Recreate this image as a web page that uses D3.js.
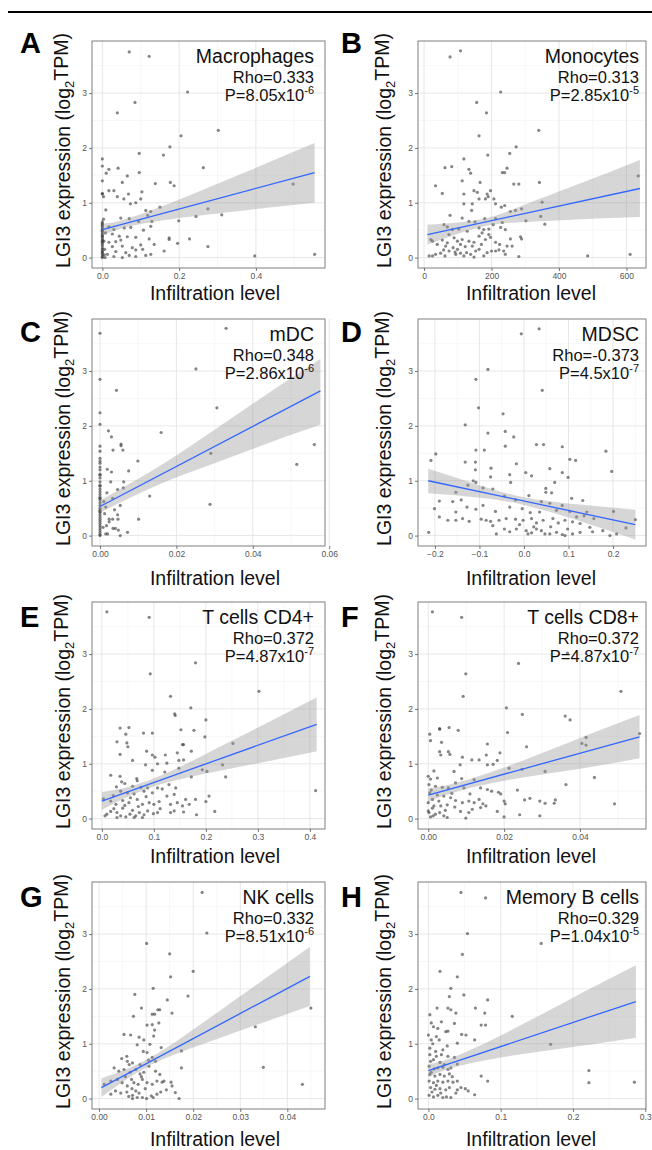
<!DOCTYPE html>
<html>
<head>
<meta charset="utf-8">
<script src="https://cdn.jsdelivr.net/npm/d3@7"></script>
<style>
  body { margin: 0; background: #fff; }
  svg { display: block; font-family: "Liberation Sans", Arial, sans-serif; }
</style>
</head>
<body>
<div id="chart"></div>
<script>
// ---- data ----
const panelLetters = ["A", "B", "C", "D", "E", "F", "G", "H"];
const cellTypes = ["Macrophages", "Monocytes", "mDC", "MDSC", "T cells CD4+", "T cells CD8+", "NK cells", "Memory B cells"];
const rhoLabels = ["0.333", "0.313", "0.348", "-0.373", "0.372", "0.372", "0.332", "0.329"];
const pMantissa = ["8.05", "2.85", "2.86", "4.5", "4.87", "4.87", "8.51", "1.04"];
const pExponent = ["-6", "-5", "-6", "-7", "-7", "-7", "-6", "-5"];

const yTicks = [0, 1, 2, 3];
const yDomain = [-0.19, 3.95];

const macroTicks = [0, 0.2, 0.4];
const monoTicks = [0, 200, 400, 600];
const mdcTicks = [0, 0.02, 0.04, 0.06];
const mdscTicks = [-0.2, -0.1, 0, 0.1, 0.2];
const cd4Ticks = [0, 0.1, 0.2, 0.3, 0.4];
const cd8Ticks = [0, 0.02, 0.04];
const nkTicks = [0, 0.01, 0.02, 0.03, 0.04];
const memBTicks = [0, 0.1, 0.2, 0.3];

const macroDomain = [-0.027, 0.58];
const monoDomain = [-18, 658];
const mdcDomain = [-0.0021, 0.0589];
const mdscDomain = [-0.238, 0.274];
const cd4Domain = [-0.019, 0.429];
const cd8Domain = [-0.0027, 0.0574];
const nkDomain = [-0.0015, 0.048];
const memBDomain = [-0.0144, 0.301];

// scatter points [infiltration, LGI3 log2TPM]
const macroPts = [[0.070,3.75],[0.122,3.67],[0.222,3.02],[0.085,2.83],[0.039,2.64],[0.302,2.32],[0.205,2.22],[0.176,2.02],[0.096,1.90],[0.159,1.87],[0,1.80],[0.263,1.64],[0,1.67],[0.041,1.63],[0.017,1.61],[0.010,1.54],[0.096,1.55],[0,1.40],[0.065,1.49],[0.052,1.37],[0.138,1.35],[0.177,1.37],[0.187,1.31],[0.497,1.34],[0,1.17],[0.017,1.22],[0.030,1.22],[0.068,1.16],[0.103,1.20],[0.003,1.11],[0.039,1.11],[0.056,1.07],[0.100,1.07],[0.073,0.98],[0.087,1.00],[0.009,0.87],[0.113,0.86],[0.126,0.84],[0.150,0.92],[0.275,0.89],[0.311,0.78],[0.244,0.75],[0.199,0.67],[0.048,0.72],[0.070,0.71],[0.094,0.66],[0.129,0.66],[0.118,0.77],[0.017,0.56],[0.030,0.51],[0.057,0.54],[0.074,0.55],[0.107,0.50],[0.126,0.57],[0.026,0.43],[0.044,0.39],[0.065,0.38],[0.087,0.37],[0.122,0.34],[0.135,0.24],[0.174,0.36],[0.174,0.33],[0.227,0.34],[0.196,0.26],[0.275,0.20],[0.017,0.28],[0.035,0.29],[0.048,0.32],[0.026,0.20],[0.052,0.21],[0.078,0.18],[0.100,0.23],[0.105,0.15],[0.035,0.11],[0.061,0.09],[0.087,0.14],[0.161,0.12],[0.126,0.06],[0.013,0.06],[0.030,0.02],[0.052,0.00],[0.087,0.02],[0.397,0.03],[0.553,0.06],[0.007,0.00],[0.113,0.04],[0.070,0.04],[0,1.16],[0,0.65],[0,0.62],[0,0.60],[0,0.58],[0,0.55],[0,0.52],[0,0.50],[0,0.48],[0,0.45],[0,0.42],[0,0.40],[0,0.38],[0,0.35],[0,0.32],[0,0.30],[0,0.28],[0,0.25],[0,0.22],[0,0.18],[0,0.15],[0,0.12],[0,0.10],[0,0.08],[0,0.05],[0,0.02],[0,0.00],[0.004,0.30],[0.006,0.15],[0.008,0.45],[0.003,0.70],[0.005,0.05]];

const monoPts = [[77,3.66],[108,3.77],[227,3.02],[156,2.83],[185,2.64],[340,2.32],[163,2.22],[273,2.02],[254,1.90],[189,1.87],[118,1.80],[62,1.64],[82,1.66],[133,1.61],[138,1.54],[232,1.55],[239,1.55],[246,1.63],[113,1.40],[166,1.37],[266,1.34],[281,1.34],[342,1.37],[635,1.49],[34,1.31],[54,1.17],[118,1.16],[148,1.22],[158,1.19],[187,1.16],[190,1.11],[197,1.22],[182,1.07],[207,1.07],[163,1.07],[143,0.98],[118,0.98],[212,0.98],[350,1.01],[229,0.92],[239,0.95],[256,0.84],[271,0.86],[289,0.89],[346,0.75],[358,0.61],[302,0.67],[77,0.77],[141,0.86],[113,0.72],[133,0.66],[151,0.65],[180,0.71],[212,0.71],[232,0.64],[59,0.60],[69,0.56],[103,0.52],[84,0.51],[163,0.54],[177,0.51],[192,0.52],[227,0.55],[241,0.51],[20,0.33],[39,0.24],[54,0.32],[64,0.21],[74,0.42],[89,0.36],[99,0.30],[113,0.33],[133,0.30],[148,0.28],[163,0.39],[170,0.24],[182,0.33],[192,0.42],[197,0.37],[212,0.28],[224,0.24],[236,0.12],[246,0.21],[256,0.34],[261,0.21],[286,0.38],[289,0.34],[15,0.03],[25,0.03],[34,0.06],[49,0.08],[62,0.03],[74,0.12],[86,0.18],[94,0.06],[99,0.15],[108,0.08],[118,0.03],[126,0.09],[138,0.06],[148,0.01],[153,0.12],[163,0.15],[177,0.03],[187,0.09],[200,0.12],[212,0.12],[222,0.14],[241,0.06],[281,0.02],[485,0.03],[611,0.06],[25,0.30],[69,0.27],[108,0.24],[143,0.21],[92,0.10],[122,0.20],[172,0.45],[58,0.14],[205,0.60],[128,0.48]];

const mdcPts = [[0,3.69],[0.033,3.78],[0.0251,3.04],[0,2.85],[0.0043,2.65],[0.0306,2.33],[0,2.24],[0,2.03],[0.0022,1.91],[0.016,1.88],[0.003,1.80],[0,1.63],[0.0055,1.67],[0.0055,1.64],[0.0034,1.56],[0.006,1.56],[0.0561,1.66],[0,1.54],[0,1.41],[0,1.36],[0,1.32],[0.029,1.50],[0.0099,1.36],[0.0515,1.30],[0.0019,1.21],[0.003,1.16],[0.0075,1.18],[0,1.25],[0,1.20],[0,1.12],[0,1.05],[0,0.98],[0.0028,0.98],[0.0062,0.98],[0.0061,0.87],[0.0046,0.84],[0.013,0.72],[0.0018,0.78],[0.0288,0.57],[0.0053,0.55],[0.0033,0.68],[0.0038,0.47],[0.0046,0.38],[0.0101,0.30],[0.0024,0.30],[0.0033,0.30],[0.0017,0.18],[0.0034,0.13],[0.004,0.13],[0.0047,0.30],[0.0072,0.06],[0.0053,0.00],[0.0015,0.03],[0.0048,0.10],[0.0024,0.25],[0.002,0.03],[0,0.92],[0,0.85],[0,0.80],[0,0.75],[0,0.70],[0,0.65],[0,0.60],[0,0.55],[0,0.50],[0,0.46],[0,0.42],[0,0.38],[0,0.34],[0,0.30],[0,0.26],[0,0.22],[0,0.18],[0,0.14],[0,0.10],[0,0.06],[0,0.02],[0,0.00],[0,0.90],[0,1.10],[0,0.68],[0,0.44],[0.001,0.62],[0.0012,0.40],[0.0008,0.15],[0.0015,0.52]];

const mdscPts = [[-0.006,3.68],[0.034,3.77],[-0.081,3.03],[-0.108,2.85],[0.041,2.65],[-0.102,2.33],[-0.047,2.22],[-0.132,2.02],[-0.081,1.87],[-0.042,1.90],[-0.023,1.80],[0.184,1.54],[0.028,1.66],[0.044,1.66],[0.086,1.62],[-0.042,1.63],[-0.108,1.56],[-0.089,1.56],[-0.198,1.49],[-0.209,1.37],[-0.132,1.34],[-0.109,1.34],[-0.109,1.20],[-0.074,1.23],[-0.017,1.31],[0.103,1.39],[0.116,1.37],[0.197,1.17],[0.004,1.15],[0.058,1.22],[0.086,1.15],[-0.032,1.11],[0.017,1.09],[-0.075,1.07],[-0.114,1.00],[-0.108,0.97],[-0.030,0.97],[0.069,0.97],[0.099,1.06],[0.049,0.86],[0.062,0.78],[0.049,0.79],[-0.070,0.85],[-0.092,0.87],[-0.126,0.92],[-0.153,0.79],[-0.141,0.65],[-0.190,0.63],[-0.160,0.62],[-0.044,0.72],[-0.019,0.65],[0.011,0.73],[0.107,0.68],[0.132,0.64],[0.086,0.55],[0.039,0.62],[0.058,0.59],[-0.201,0.49],[-0.153,0.43],[-0.128,0.52],[-0.108,0.48],[-0.092,0.55],[-0.064,0.44],[-0.032,0.52],[-0.004,0.49],[0.014,0.42],[0.035,0.43],[0.073,0.46],[0.103,0.44],[0.118,0.34],[0.141,0.43],[0.157,0.31],[0.201,0.44],[0.250,0.29],[-0.190,0.34],[-0.171,0.28],[-0.153,0.28],[-0.138,0.31],[-0.123,0.26],[-0.096,0.30],[-0.085,0.28],[-0.075,0.26],[-0.056,0.28],[-0.040,0.31],[-0.019,0.30],[-0.002,0.28],[0.017,0.31],[0.028,0.23],[0.043,0.28],[0.065,0.31],[0.077,0.23],[0.092,0.28],[0.109,0.25],[0.126,0.22],[0.148,0.15],[0.177,0.09],[-0.214,0.06],[-0.062,0.03],[-0.044,0.12],[-0.032,0.07],[-0.017,0.12],[0.005,0.09],[0.017,0.05],[0.028,0.12],[0.039,0.09],[0.058,0.03],[0.073,0.06],[0.086,0.02],[0.109,0.03],[0.126,0.06],[0.154,0.07],[0.193,0.00],[0.208,0.03],[0.229,0.14],[0.092,0.00],[0.009,0.03],[0.047,0.03],[-0.070,0.18],[-0.010,0.20],[0.022,0.16],[0.060,0.16],[0.098,0.12],[0.135,0.36]];

const cd4Pts = [[0.0096,3.77],[0.091,3.67],[0.180,2.84],[0.093,2.64],[0.302,2.32],[0.132,2.23],[0.171,2.02],[0.140,1.91],[0.141,1.88],[0.200,1.80],[0.035,1.65],[0.052,1.66],[0.046,1.54],[0.080,1.56],[0.097,1.56],[0.152,1.62],[0.177,1.61],[0.198,1.49],[0.029,1.40],[0.048,1.38],[0.050,1.31],[0.155,1.35],[0.157,1.35],[0.252,1.37],[0.035,1.17],[0.086,1.23],[0.097,1.16],[0.102,1.12],[0.122,1.16],[0.145,1.20],[0.172,1.23],[0.059,1.06],[0.084,0.98],[0.107,1.00],[0.125,1.01],[0.148,1.06],[0.157,1.07],[0.232,0.98],[0.097,0.88],[0.148,0.92],[0.193,0.89],[0.202,0.86],[0.238,0.76],[0.172,0.76],[0.121,0.85],[0.017,0.79],[0.035,0.77],[0.067,0.73],[0.068,0.69],[0.038,0.67],[0.044,0.64],[0.028,0.58],[0.059,0.59],[0.075,0.57],[0.088,0.56],[0.107,0.56],[0.116,0.54],[0.129,0.62],[0.142,0.56],[0.411,0.51],[0.003,0.36],[0.036,0.50],[0.049,0.47],[0.062,0.45],[0.081,0.50],[0.097,0.47],[0.125,0.41],[0.139,0.44],[0.161,0.35],[0.180,0.35],[0.206,0.41],[0.200,0.31],[0.017,0.32],[0.027,0.26],[0.040,0.33],[0.052,0.29],[0.068,0.35],[0.078,0.26],[0.091,0.29],[0.100,0.26],[0.110,0.31],[0.132,0.26],[0.145,0.29],[0.155,0.23],[0.168,0.26],[0.0096,0.08],[0.017,0.13],[0.029,0.11],[0.040,0.19],[0.046,0.03],[0.054,0.08],[0.059,0.15],[0.065,0.05],[0.072,0.11],[0.081,0.07],[0.088,0.14],[0.099,0.09],[0.107,0.11],[0.132,0.11],[0.139,0.14],[0.157,0.12],[0.182,0.07],[0.217,0.13],[0.029,0.02],[0.062,0.02],[0.078,0.02],[0.036,0.05],[0.006,0.05],[0.022,0.42],[0.055,0.38],[0.070,0.22],[0.085,0.40],[0.112,0.18],[0.044,0.24],[0.023,0.18]];

const cd8Pts = [[0.0011,3.77],[0.0088,3.67],[0.0367,3.02],[0.0238,2.83],[0.0099,2.64],[0.0508,2.32],[0.0092,2.23],[0.0206,2.02],[0.0248,1.90],[0.0361,1.87],[0.0374,1.80],[0.0004,1.54],[0.003,1.64],[0.003,1.63],[0.0055,1.66],[0.0079,1.61],[0.0209,1.57],[0.0557,1.55],[0.0006,1.42],[0.0035,1.39],[0.0156,1.36],[0.0259,1.31],[0.0405,1.37],[0.0416,1.34],[0.0416,1.48],[0.003,1.22],[0.0033,1.16],[0.0053,1.22],[0.0057,1.17],[0.0090,1.12],[0.0115,1.07],[0.0134,1.07],[0.0153,1.16],[0.0156,0.98],[0.0171,0.99],[0.0182,1.06],[0.0189,1.20],[0.0084,0.98],[0.0068,0.86],[0.0015,0.87],[0.0213,0.92],[0.0247,0.90],[0.0308,0.86],[0.0438,0.75],[0.0363,0.62],[0.0235,0.52],[0,0.77],[0.0006,0.72],[0.0024,0.74],[0.0002,0.62],[0.0019,0.59],[0.0037,0.57],[0.0053,0.56],[0.0072,0.65],[0.0088,0.73],[0.0094,0.56],[0.0121,0.71],[0.0138,0.56],[0.0156,0.53],[0.0167,0.50],[0.0185,0.48],[0.0191,0.45],[0.0004,0.47],[0.0011,0.35],[0.0024,0.43],[0.0041,0.41],[0.0059,0.38],[0.0072,0.33],[0.0090,0.29],[0.0107,0.32],[0.0121,0.29],[0.0134,0.35],[0.0144,0.27],[0.0200,0.32],[0.0203,0.27],[0.0254,0.34],[0.0268,0.37],[0.0294,0.32],[0.0308,0.28],[0.0332,0.28],[0.0335,0.34],[0.0491,0.27],[0,0.29],[0.0015,0.23],[0.0033,0.23],[0.0050,0.25],[0.0070,0.21],[0.0085,0.13],[0.0107,0.11],[0.0116,0.17],[0.0138,0.20],[0.0152,0.23],[0.0182,0.13],[0.0002,0.11],[0.0006,0.03],[0.0019,0.08],[0.003,0.11],[0.0041,0.05],[0.0050,0.02],[0.0099,0.01],[0.0200,0.03],[0.0241,0.07],[0.0294,0.05],[0,0.14],[0.0011,0.19],[0.0008,0.52],[0.0028,0.32],[0.0045,0.15],[0.0013,0.05],[0.0062,0.46],[0.0110,0.45]];

const nkPts = [[0.0219,3.76],[0.0229,3.02],[0.0101,2.83],[0.0150,2.64],[0.0200,2.32],[0.0152,2.22],[0.0115,2.01],[0.0076,1.90],[0.0145,1.80],[0.0189,1.87],[0.0090,1.65],[0.0073,1.50],[0.0450,1.65],[0.0113,1.54],[0.0118,1.54],[0.0125,1.62],[0.0129,1.62],[0.0155,1.56],[0.0053,1.17],[0.0067,1.16],[0.0102,1.34],[0.0113,1.35],[0.0118,1.25],[0.0127,1.38],[0.0332,1.31],[0.0095,1.07],[0.0116,1.14],[0.0108,0.99],[0.0081,0.98],[0.0102,0.84],[0.0094,0.86],[0.0132,0.93],[0.0175,0.87],[0.0059,0.77],[0.0060,0.68],[0.0071,0.65],[0.0087,0.62],[0.0113,0.75],[0.0120,0.68],[0.0106,0.59],[0.0349,0.57],[0.0175,0.56],[0.0032,0.56],[0.0042,0.50],[0.0053,0.53],[0.0066,0.48],[0.0078,0.53],[0.0087,0.45],[0.0095,0.48],[0.0120,0.50],[0.0129,0.44],[0.0011,0.26],[0.0025,0.32],[0.0039,0.35],[0.0049,0.29],[0.0060,0.23],[0.0069,0.35],[0.0074,0.29],[0.0083,0.26],[0.0092,0.35],[0.0102,0.29],[0.0113,0.26],[0.0123,0.32],[0.0134,0.30],[0.0138,0.32],[0.0153,0.30],[0.0155,0.23],[0.0432,0.26],[0.0025,0.08],[0.0035,0.14],[0.0046,0.10],[0.0059,0.12],[0.0071,0.06],[0.0078,0.14],[0.0085,0.10],[0.0092,0.02],[0.0101,0.00],[0.0111,0.05],[0.0115,0.02],[0.0123,0.08],[0.0131,0.12],[0.0143,0.16],[0.0162,0.11],[0.0170,0.00],[0.0071,0.00],[0.0081,0.02],[0.0063,0.04],[0.0056,0.40],[0.0064,0.62],[0.0090,0.40],[0.0105,0.70],[0.0070,0.18],[0.0098,0.18],[0.0048,0.73],[0.0085,1.12]];

const memBPts = [[0.045,3.76],[0.079,3.66],[0.054,3.01],[0.156,2.83],[0.047,2.63],[0.016,2.32],[0.040,2.22],[0.031,2.01],[0.049,1.89],[0.029,1.86],[0.082,1.80],[0.012,1.65],[0.027,1.65],[0.031,1.62],[0.065,1.65],[0.038,1.56],[0.078,1.56],[0.116,1.50],[0.002,1.53],[0.018,1.40],[0.004,1.38],[0.036,1.37],[0.073,1.34],[0.079,1.34],[0.007,1.31],[0.013,1.28],[0.027,1.23],[0.024,1.22],[0,1.16],[0.011,1.13],[0.046,1.17],[0.052,1.16],[0.004,1.07],[0.015,1.07],[0.064,1.07],[0.026,0.96],[0.040,1.01],[0.169,0.99],[0.002,0.92],[0.010,0.86],[0.020,0.89],[0.002,0.80],[0.011,0.77],[0.018,0.80],[0.027,0.77],[0.036,0.75],[0.007,0.71],[0.016,0.66],[0.040,0.63],[0.001,0.59],[0.008,0.54],[0.013,0.56],[0.020,0.57],[0.027,0.53],[0.031,0.56],[0.222,0.51],[0.002,0.44],[0.009,0.41],[0.016,0.44],[0.022,0.41],[0.029,0.45],[0.073,0.41],[0.001,0.32],[0.007,0.29],[0.013,0.32],[0.020,0.30],[0.027,0.32],[0.034,0.30],[0.040,0.32],[0.082,0.32],[0.222,0.29],[0.285,0.30],[0.003,0.20],[0.009,0.17],[0.016,0.18],[0.024,0.16],[0.029,0.20],[0.040,0.16],[0.045,0.20],[0.051,0.18],[0.055,0.14],[0.001,0.06],[0.007,0.03],[0.013,0.06],[0.020,0.02],[0.025,0.03],[0.031,0.02],[0.064,0.07],[0.038,0.10],[0.005,0.12],[0.017,0.10],[0.011,0.24],[0.004,0.48],[0.022,0.62],[0.006,1.00],[0.033,0.40],[0.003,0.68]];

// fitted line endpoints and confidence band [x, lower, upper]
const macroFit = [[0, 0.51], [0.553, 1.55]];
const macroBand = [[0, 0.40, 0.62], [0.06, 0.55, 0.70], [0.2, 0.72, 1.06], [0.38, 0.87, 1.58], [0.553, 1.00, 2.09]];
const monoFit = [[10, 0.42], [640, 1.26]];
const monoBand = [[10, 0.24, 0.60], [170, 0.56, 0.70], [300, 0.65, 0.97], [470, 0.70, 1.37], [640, 0.74, 1.78]];
const mdcFit = [[0, 0.53], [0.0577, 2.64]];
const mdcBand = [[0, 0.42, 0.64], [0.015, 0.92, 1.24], [0.03, 1.32, 1.93], [0.045, 1.71, 2.64], [0.0577, 2.02, 3.22]];
const mdscFit = [[-0.215, 1.00], [0.25, 0.20]];
const mdscBand = [[-0.215, 0.77, 1.22], [-0.1, 0.69, 0.92], [0, 0.56, 0.70], [0.12, 0.28, 0.57], [0.25, -0.07, 0.47]];
const cd4Fit = [[0, 0.32], [0.413, 1.72]];
const cd4Band = [[0, 0.16, 0.48], [0.09, 0.555, 0.695], [0.2, 0.82, 1.18], [0.3, 1.01, 1.66], [0.413, 1.23, 2.21]];
const cd8Fit = [[0, 0.43], [0.0557, 1.49]];
const cd8Band = [[0, 0.31, 0.55], [0.01, 0.54, 0.70], [0.025, 0.75, 1.06], [0.04, 0.91, 1.47], [0.0557, 1.10, 1.89]];
const nkFit = [[0.0005, 0.20], [0.0448, 2.23]];
const nkBand = [[0.0005, 0.03, 0.37], [0.01, 0.565, 0.705], [0.02, 0.93, 1.26], [0.032, 1.30, 1.99], [0.0448, 1.69, 2.77]];
const memBFit = [[0, 0.51], [0.287, 1.77]];
const memBBand = [[0, 0.39, 0.63], [0.03, 0.55, 0.73], [0.1, 0.75, 1.15], [0.2, 0.94, 1.84], [0.287, 1.11, 2.43]];

const panels = [
  { pts: macroPts, fit: macroFit, band: macroBand, domain: macroDomain, ticks: macroTicks, fmt: ".1f" },
  { pts: monoPts, fit: monoFit, band: monoBand, domain: monoDomain, ticks: monoTicks, fmt: "d" },
  { pts: mdcPts, fit: mdcFit, band: mdcBand, domain: mdcDomain, ticks: mdcTicks, fmt: ".2f" },
  { pts: mdscPts, fit: mdscFit, band: mdscBand, domain: mdscDomain, ticks: mdscTicks, fmt: ".1f" },
  { pts: cd4Pts, fit: cd4Fit, band: cd4Band, domain: cd4Domain, ticks: cd4Ticks, fmt: ".1f" },
  { pts: cd8Pts, fit: cd8Fit, band: cd8Band, domain: cd8Domain, ticks: cd8Ticks, fmt: ".2f" },
  { pts: nkPts, fit: nkFit, band: nkBand, domain: nkDomain, ticks: nkTicks, fmt: ".2f" },
  { pts: memBPts, fit: memBFit, band: memBBand, domain: memBDomain, ticks: memBTicks, fmt: ".1f" }
];

// ---- layout ----
const width = 652, height = 1150;
const colLeft = [92, 418], colRight = [325, 646];
const rowTop = [41, 319, 602, 882];
const plotH = 227;
const letterX = [20, 341], letterY = [53, 342, 627, 907];
const yTitleX = [63, 384];
const xTitleX = [215, 531], xTitleY = [300, 585, 863, 1146];
const annotPad = [11, 7];

const svg = d3.select("#chart").append("svg")
  .attr("width", width)
  .attr("height", height);

svg.append("line")
  .attr("x1", 8).attr("x2", width)
  .attr("y1", 12).attr("y2", 12)
  .attr("stroke", "#000").attr("stroke-width", 2);

panels.forEach((p, i) => {
  const col = i % 2, row = Math.floor(i / 2);
  const left = colLeft[col], right = colRight[col];
  const top = rowTop[row], bottom = top + plotH;

  const x = d3.scaleLinear().domain(p.domain).range([left, right]);
  const y = d3.scaleLinear().domain(yDomain).range([bottom, top]);

  const g = svg.append("g");

  g.append("clipPath").attr("id", "clip" + i)
    .append("rect").attr("x", left).attr("y", top).attr("width", right - left).attr("height", plotH);

  // grid: minor then major
  const step = p.ticks[1] - p.ticks[0];
  const xMinor = d3.range(p.ticks[0] - step / 2, p.domain[1], step)
    .filter(v => v > p.domain[0] && v < p.domain[1]);
  const yMinor = [-0.5, 0.5, 1.5, 2.5, 3.5].filter(v => v > yDomain[0] && v < yDomain[1]);

  g.selectAll(".xmin").data(xMinor).join("line")
    .attr("x1", d => x(d)).attr("x2", d => x(d)).attr("y1", top).attr("y2", bottom)
    .attr("stroke", "#f2f2f2").attr("stroke-width", 0.6);
  g.selectAll(".ymin").data(yMinor).join("line")
    .attr("y1", d => y(d)).attr("y2", d => y(d)).attr("x1", left).attr("x2", right)
    .attr("stroke", "#f2f2f2").attr("stroke-width", 0.6);
  g.selectAll(".xmaj").data(p.ticks).join("line")
    .attr("x1", d => x(d)).attr("x2", d => x(d)).attr("y1", top).attr("y2", bottom)
    .attr("stroke", "#e4e4e4").attr("stroke-width", 0.9);
  g.selectAll(".ymaj").data(yTicks).join("line")
    .attr("y1", d => y(d)).attr("y2", d => y(d)).attr("x1", left).attr("x2", right)
    .attr("stroke", "#e4e4e4").attr("stroke-width", 0.9);

  const inner = g.append("g").attr("clip-path", `url(#clip${i})`);

  inner.selectAll("circle").data(p.pts).join("circle")
    .attr("cx", d => x(d[0]))
    .attr("cy", d => y(d[1]))
    .attr("r", 1.6)
    .attr("fill", "#333")
    .attr("fill-opacity", 0.6);

  const area = d3.area()
    .x(d => x(d[0]))
    .y0(d => y(d[1]))
    .y1(d => y(d[2]))
    .curve(d3.curveNatural);
  inner.append("path").attr("d", area(p.band))
    .attr("fill", "#999").attr("fill-opacity", 0.4);

  inner.append("path")
    .attr("d", d3.line().x(d => x(d[0])).y(d => y(d[1]))(p.fit))
    .attr("stroke", "#3366ff").attr("stroke-width", 1.3).attr("fill", "none");

  g.append("rect")
    .attr("x", left).attr("y", top).attr("width", right - left).attr("height", plotH)
    .attr("fill", "none").attr("stroke", "#7f7f7f").attr("stroke-width", 1);

  // axes
  const xAxis = d3.axisBottom(x).tickValues(p.ticks).tickFormat(d3.format(p.fmt)).tickSize(3).tickPadding(2);
  const yAxis = d3.axisLeft(y).tickValues(yTicks).tickFormat(d3.format("d")).tickSize(3).tickPadding(2);

  const ax = g.append("g").attr("transform", `translate(0,${bottom})`).call(xAxis);
  const ay = g.append("g").attr("transform", `translate(${left},0)`).call(yAxis);
  [ax, ay].forEach(a => {
    a.select(".domain").remove();
    a.selectAll(".tick line").attr("stroke", "#555").attr("stroke-width", 0.8);
    a.selectAll(".tick text").attr("fill", "#555").attr("font-size", "8.5px")
      .attr("font-family", "'Liberation Sans', Arial, sans-serif");
  });

  // titles
  g.append("text")
    .attr("x", xTitleX[col]).attr("y", xTitleY[row])
    .attr("text-anchor", "middle").attr("font-size", "19.5px").attr("fill", "#111")
    .text("Infiltration level");

  const yt = g.append("text")
    .attr("transform", `translate(${yTitleX[col]},${top + plotH / 2 - 4}) rotate(-90)`)
    .attr("text-anchor", "middle").attr("dy", "0.35em")
    .attr("font-size", "19.5px").attr("fill", "#111");
  yt.append("tspan").text("LGI3 expression (log");
  yt.append("tspan").attr("font-size", "13px").attr("dy", "0.3em").text("2");
  yt.append("tspan").attr("dy", "-0.3em").text("TPM)");

  g.append("text")
    .attr("x", letterX[col]).attr("y", letterY[row])
    .attr("font-size", "29px").attr("font-weight", "bold").attr("fill", "#000")
    .text(panelLetters[i]);

  // annotation
  const ex = right - annotPad[col];
  g.append("text").attr("x", ex).attr("y", top + 22)
    .attr("text-anchor", "end").attr("font-size", "19.5px").attr("fill", "#111")
    .text(cellTypes[i]);
  g.append("text").attr("x", ex).attr("y", top + 42)
    .attr("text-anchor", "end").attr("font-size", "16.5px").attr("fill", "#111")
    .text("Rho=" + rhoLabels[i]);
  const pt = g.append("text").attr("x", ex).attr("y", top + 60)
    .attr("text-anchor", "end").attr("font-size", "16.5px").attr("fill", "#111");
  pt.append("tspan").text("P=" + pMantissa[i] + "x10");
  pt.append("tspan").attr("font-size", "11px").attr("dy", "-0.65em").text(pExponent[i]);
});
</script>
</body>
</html>
